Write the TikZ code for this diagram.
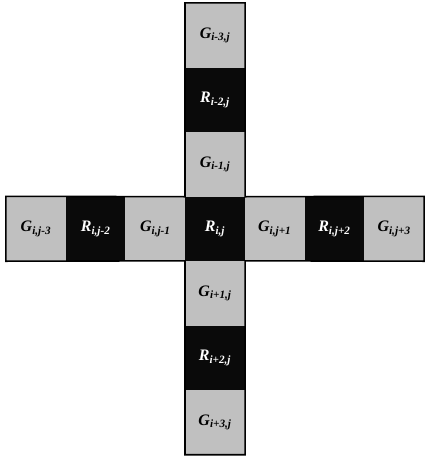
\documentclass[tikz,border=0pt]{standalone}
\usepackage{fontspec}
\setmainfont{Liberation Serif}
\usepackage{xcolor}
\usetikzlibrary{positioning}
\definecolor{stip}{RGB}{192,192,192}
\definecolor{ink}{RGB}{10,10,10}

\begin{document}
\begin{tikzpicture}[
  x=1pt, y=-1pt,
  cell/.style={minimum width=59.7pt, minimum height=64.5pt, inner sep=0pt,
               font=\fontsize{16}{16}\selectfont\bfseries\itshape},
  grn/.style={cell, fill=stip, text=black},
  red/.style={cell, fill=ink, text=white},
  rim/.style={draw=black, line width=1.6pt, line join=miter}]

  \useasboundingbox (0,0) rectangle (427,458);

  % vertical column
  \node[grn] (gm3) at (215, 35.25) {G\textsubscript{i-3,j}};
  \node[red] (rm2) at (215, 99.75) {R\textsubscript{i-2,j}};
  \node[grn] (gm1) at (215,164.25) {G\textsubscript{i-1,j}};
  \node[red] (r0)  at (215,228.75) {R\textsubscript{i,j}};
  \node[grn] (gp1) at (215,293.25) {G\textsubscript{i+1,j}};
  \node[red] (rp2) at (215,357.75) {R\textsubscript{i+2,j}};
  \node[grn] (gp3) at (215,422.25) {G\textsubscript{i+3,j}};

  % horizontal row
  \node[grn] (hm3) at ( 35.9,228.75) {G\textsubscript{i,j-3}};
  \node[red] (hm2) at ( 95.6,228.75) {R\textsubscript{i,j-2}};
  \node[grn] (hm1) at (155.3,228.75) {G\textsubscript{i,j-1}};
  \node[grn] (hp1) at (274.7,228.75) {G\textsubscript{i,j+1}};
  \node[red] (hp2) at (334.4,228.75) {R\textsubscript{i,j+2}};
  \node[grn] (hp3) at (394.1,228.75) {G\textsubscript{i,j+3}};

  % outline of the cross
  \draw[rim] (gm3.north west) -- (gm3.north east) -- (gm1.south east)
    -- (hp3.north east) -- (hp3.south east) -- (gp1.north east)
    -- (gp3.south east) -- (gp3.south west) -- (gp1.north west)
    -- (hm3.south west) -- (hm3.north west) -- (gm1.south west) -- cycle;
\end{tikzpicture}
\end{document}
